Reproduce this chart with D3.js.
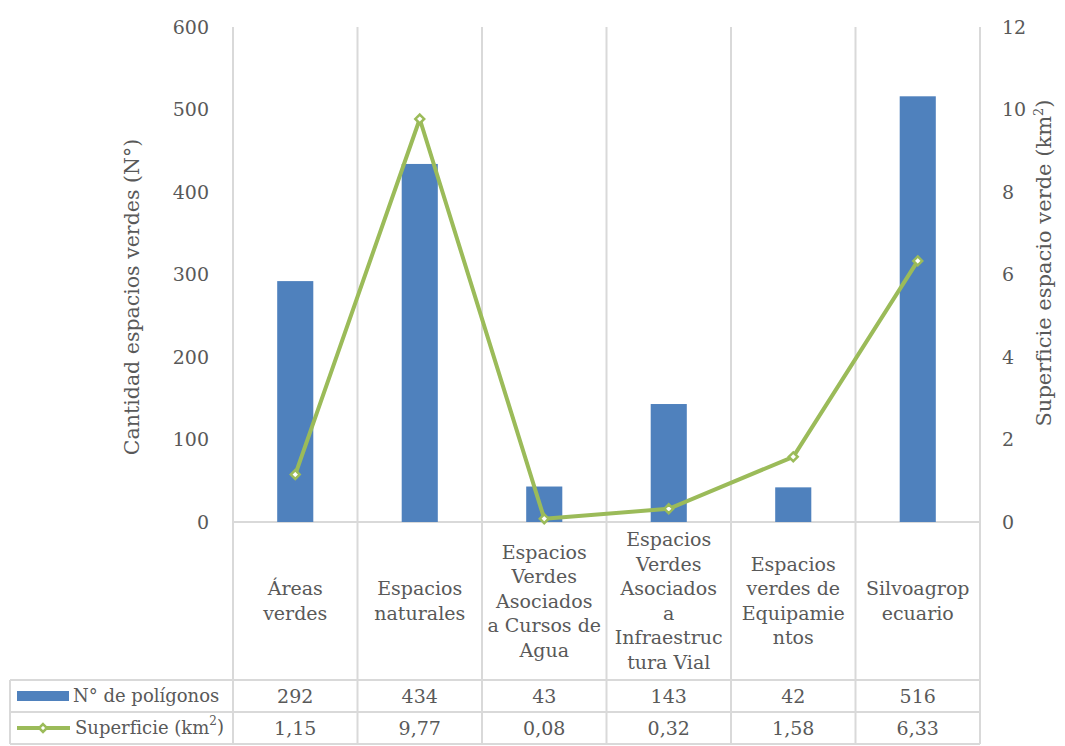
<!DOCTYPE html>
<html lang="es">
<head>
    <meta charset="UTF-8">
    <script src="https://d3js.org/d3.v7.min.js"></script>
    <style>
        body {
            margin: 0;
            background: #fff;
            overflow: hidden;
        }
        text {
            font-family: "DejaVu Serif", "Liberation Serif", serif;
            fill: #595959;
        }
    </style>
</head>
<body>
    <svg id="chart"></svg>

    <script>
        const categorias = ["Áreas verdes", "Espacios naturales", "Espacios Verdes Asociados a Cursos de Agua",
            "Espacios Verdes Asociados a Infraestructura Vial", "Espacios verdes de Equipamientos", "Silvoagropecuario"];
        // cortes de línea tal como aparecen en la figura
        const etiquetas = [
            ["Áreas", "verdes"],
            ["Espacios", "naturales"],
            ["Espacios", "Verdes", "Asociados", "a Cursos de", "Agua"],
            ["Espacios", "Verdes", "Asociados", "a", "Infraestruc", "tura Vial"],
            ["Espacios", "verdes de", "Equipamie", "ntos"],
            ["Silvoagrop", "ecuario"]
        ];
        const poligonos = [292, 434, 43, 143, 42, 516];
        const superficie = [1.15, 9.77, 0.08, 0.32, 1.58, 6.33];
        const ticksIzq = [0, 100, 200, 300, 400, 500, 600];
        const ticksDer = [0, 2, 4, 6, 8, 10, 12];

        const width = 1065, height = 746;
        const plot = { left: 233, right: 980, top: 27, bottom: 522 };
        const tabla = { left: 10, labelBottom: 680, row1: 712, row2: 744 };

        const azul = "#4F81BD", verde = "#9BBB59", grilla = "#d9d9d9";
        const fmt = v => String(v).replace(".", ",");

        const svg = d3.select("#chart").attr("width", width).attr("height", height);

        const x = d3.scaleBand().domain(categorias).range([plot.left, plot.right]).padding(0);
        const y = d3.scaleLinear().domain([0, 600]).range([plot.bottom, plot.top]);
        const y2 = d3.scaleLinear().domain([0, 12]).range([plot.bottom, plot.top]);

        // líneas verticales de la grilla / tabla
        const bordes = categorias.map(c => x(c)).concat([plot.right]);
        svg.append("g").selectAll("line").data(bordes).enter().append("line")
            .attr("x1", d => d).attr("x2", d => d)
            .attr("y1", plot.top).attr("y2", tabla.row2)
            .attr("stroke", grilla).attr("stroke-width", 2);

        // líneas horizontales
        svg.append("line").attr("x1", plot.left).attr("x2", plot.right)
            .attr("y1", plot.bottom).attr("y2", plot.bottom).attr("stroke", grilla).attr("stroke-width", 2);
        [tabla.labelBottom, tabla.row1, tabla.row2].forEach(yy => {
            svg.append("line").attr("x1", tabla.left).attr("x2", plot.right)
                .attr("y1", yy).attr("y2", yy).attr("stroke", grilla).attr("stroke-width", 2);
        });
        svg.append("line").attr("x1", tabla.left).attr("x2", tabla.left)
            .attr("y1", tabla.labelBottom).attr("y2", tabla.row2).attr("stroke", grilla).attr("stroke-width", 2);

        // ejes
        const ejeIzq = svg.append("g")
            .attr("transform", `translate(${plot.left},0)`)
            .call(d3.axisLeft(y).tickValues(ticksIzq).tickSize(0).tickPadding(24));
        ejeIzq.select(".domain").remove();
        ejeIzq.selectAll("text").style("font-size", "19px").attr("fill", "#595959")
            .style("font-family", "DejaVu Serif");

        const ejeDer = svg.append("g")
            .attr("transform", `translate(${plot.right},0)`)
            .call(d3.axisRight(y2).tickValues(ticksDer).tickSize(0).tickPadding(22));
        ejeDer.select(".domain").remove();
        ejeDer.selectAll("text").style("font-size", "19px").attr("fill", "#595959")
            .style("font-family", "DejaVu Serif");

        // títulos de ejes
        svg.append("text")
            .attr("transform", `translate(139,297) rotate(-90)`)
            .attr("text-anchor", "middle").style("font-size", "20.5px")
            .text("Cantidad espacios verdes (N°)");
        const tDer = svg.append("text")
            .attr("transform", `translate(1051,263) rotate(-90)`)
            .attr("text-anchor", "middle").style("font-size", "21px");
        tDer.append("tspan").text("Superficie espacio verde (km");
        tDer.append("tspan").attr("dy", -8).style("font-size", "13px").text("2");
        tDer.append("tspan").attr("dy", 8).text(")");

        // barras
        const anchoBarra = x.bandwidth() * 0.29;
        svg.append("g").selectAll("rect").data(poligonos).enter().append("rect")
            .attr("x", (d, i) => x(categorias[i]) + x.bandwidth() / 2 - anchoBarra / 2)
            .attr("y", d => y(d))
            .attr("width", anchoBarra)
            .attr("height", d => plot.bottom - y(d))
            .attr("fill", azul);

        // línea
        const linea = d3.line()
            .x((d, i) => x(categorias[i]) + x.bandwidth() / 2)
            .y(d => y2(d));
        svg.append("path").datum(superficie)
            .attr("d", linea)
            .attr("fill", "none").attr("stroke", verde).attr("stroke-width", 4)
            .attr("stroke-linejoin", "round");

        const diamante = d3.symbol().type(d3.symbolDiamond2).size(50);
        svg.append("g").selectAll("path").data(superficie).enter().append("path")
            .attr("d", diamante)
            .attr("transform", (d, i) => `translate(${x(categorias[i]) + x.bandwidth() / 2},${y2(d)})`)
            .attr("fill", "#fff").attr("stroke", verde).attr("stroke-width", 2.5);

        // etiquetas de categorías
        const lh = 24.5;
        const centroEtiq = (plot.bottom + tabla.labelBottom) / 2;
        etiquetas.forEach((lineas, i) => {
            const cx = x(categorias[i]) + x.bandwidth() / 2;
            const y0 = centroEtiq - (lineas.length - 1) * lh / 2;
            const t = svg.append("text").attr("text-anchor", "middle").style("font-size", "19px");
            lineas.forEach((l, j) => {
                t.append("tspan").attr("x", cx).attr("y", y0 + j * lh).attr("dy", "0.35em").text(l);
            });
        });

        // tabla de datos
        const fila1 = (tabla.labelBottom + tabla.row1) / 2;
        const fila2 = (tabla.row1 + tabla.row2) / 2;
        poligonos.forEach((v, i) => {
            svg.append("text").attr("x", x(categorias[i]) + x.bandwidth() / 2).attr("y", fila1)
                .attr("dy", "0.35em").attr("text-anchor", "middle").style("font-size", "19px").text(v);
        });
        superficie.forEach((v, i) => {
            svg.append("text").attr("x", x(categorias[i]) + x.bandwidth() / 2).attr("y", fila2)
                .attr("dy", "0.35em").attr("text-anchor", "middle").style("font-size", "19px").text(fmt(v));
        });

        // claves de leyenda en la tabla
        svg.append("rect").attr("x", 17).attr("y", fila1 - 5).attr("width", 52).attr("height", 10).attr("fill", azul);
        svg.append("text").attr("x", 73).attr("y", fila1).attr("dy", "0.35em").style("font-size", "18px")
            .text("N° de polígonos");
        svg.append("line").attr("x1", 17).attr("x2", 70).attr("y1", fila2).attr("y2", fila2)
            .attr("stroke", verde).attr("stroke-width", 4);
        svg.append("path").attr("d", d3.symbol().type(d3.symbolDiamond2).size(40))
            .attr("transform", `translate(43,${fila2})`)
            .attr("fill", "#fff").attr("stroke", verde).attr("stroke-width", 2.5);
        const tLeg = svg.append("text").attr("x", 75).attr("y", fila2).attr("dy", "0.35em").style("font-size", "18px");
        tLeg.append("tspan").text("Superficie (km");
        tLeg.append("tspan").attr("dy", "-0.8em").style("font-size", "12px").text("2");
        tLeg.append("tspan").attr("dy", "0.45em").text(")");
    </script>
</body>
</html>
